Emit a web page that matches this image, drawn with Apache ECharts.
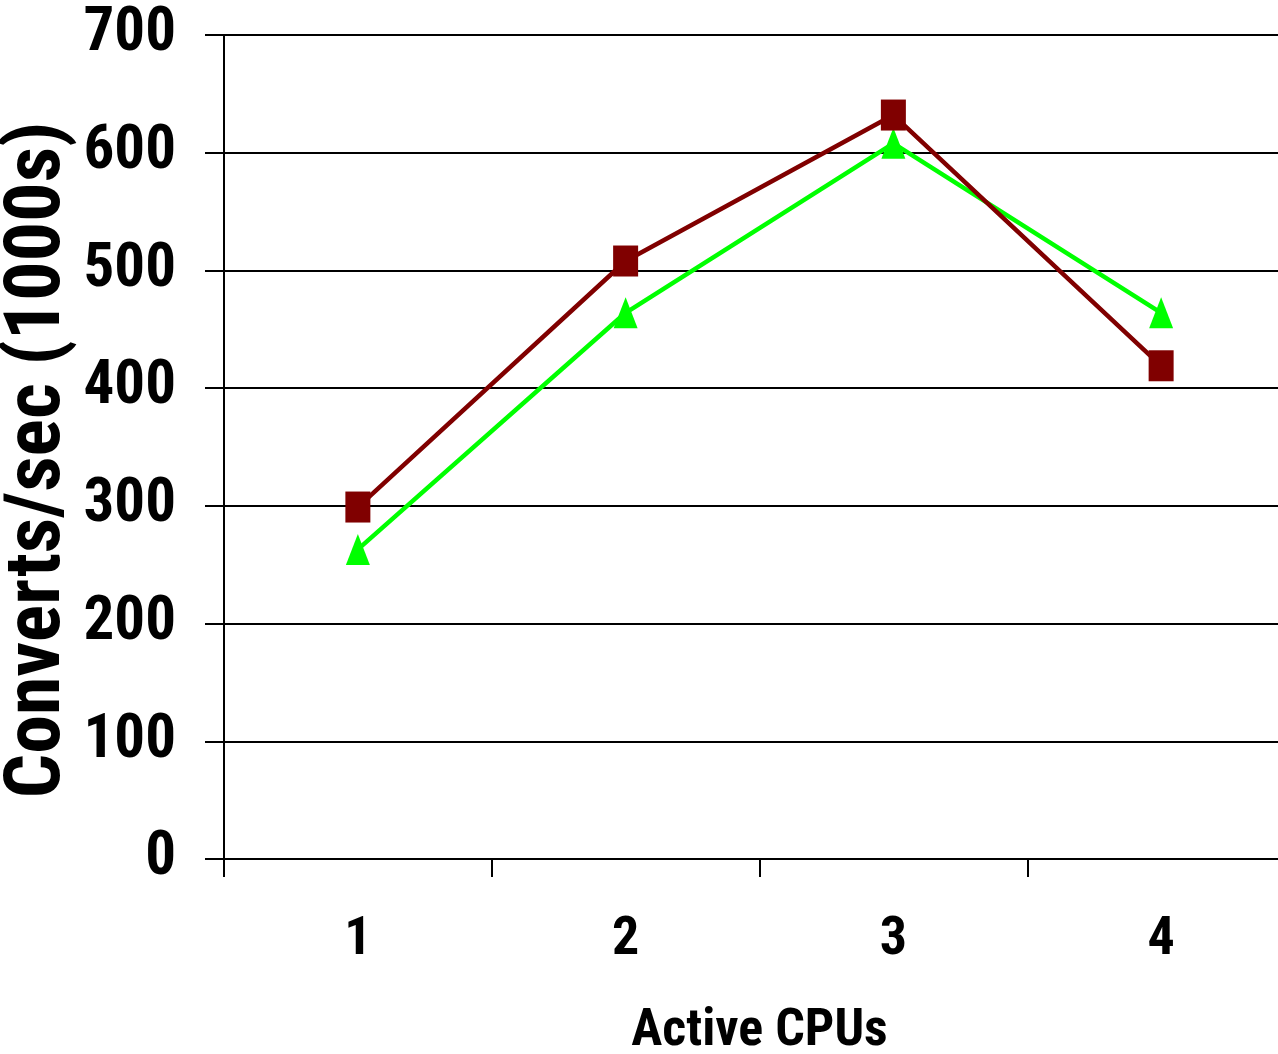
<!DOCTYPE html>
<html>
<head>
<meta charset="utf-8">
<script src="https://cdn.jsdelivr.net/npm/echarts@6/dist/echarts.min.js"></script>
<style>
  html, body { margin: 0; padding: 0; background: #ffffff; }
  #chart { width: 1278px; height: 1054px; }
</style>
</head>
<body>
<div id="chart"></div>
<script>
// Throughput per number of active CPUs (thousands of converts per second)
const cpus = ['1', '2', '3', '4'];
const seriesSquare = [299, 508, 632, 419];
const seriesTriangle = [263, 464, 608, 464];
const yTicks = { min: 0, max: 700, step: 100 };

const narrow = "'Roboto Condensed', 'Liberation Sans Narrow', 'Arial Narrow', sans-serif";

const chart = echarts.init(document.getElementById('chart'));
chart.setOption({
  backgroundColor: '#ffffff',
  animation: false,
  grid: { left: 224, top: 35, width: 1071, height: 824, containLabel: false, outerBoundsMode: 'none' },
  xAxis: {
    type: 'category',
    data: cpus,
    boundaryGap: true,
    name: 'Active CPUs',
    nameLocation: 'middle',
    nameGap: 147,
    nameMoveOverlap: false,
    nameTextStyle: { fontFamily: narrow, fontWeight: 'bold', fontSize: 52, color: '#000', verticalAlign: 'top' },
    axisLine: { lineStyle: { color: '#000', width: 2 } },
    axisTick: { show: true, length: 18, lineStyle: { color: '#000', width: 2 } },
    axisLabel: { margin: 54, fontFamily: narrow, fontWeight: 'bold', fontSize: 54, color: '#000' },
    splitLine: { show: false }
  },
  yAxis: {
    type: 'value',
    min: yTicks.min,
    max: yTicks.max,
    interval: yTicks.step,
    name: 'Converts/sec (1000s)',
    nameLocation: 'middle',
    nameRotate: 90,
    nameGap: 146,
    nameMoveOverlap: false,
    nameTextStyle: { fontFamily: narrow, fontWeight: 'bold', fontSize: 78, color: '#000', padding: [0, 26, 0, 0] },
    axisLine: { show: true, lineStyle: { color: '#000', width: 2 } },
    axisTick: { show: true, length: 19, lineStyle: { color: '#000', width: 2 } },
    axisLabel: { margin: 48, fontFamily: narrow, fontWeight: 'bold', fontSize: 61, color: '#000' },
    splitLine: { show: true, lineStyle: { color: '#000', width: 2 } }
  },
  series: [
    {
      type: 'line',
      data: seriesTriangle,
      symbol: 'triangle',
      symbolSize: [24, 31],
      lineStyle: { color: '#00ff00', width: 4.5 },
      itemStyle: { color: '#00ff00' }
    },
    {
      type: 'line',
      data: seriesSquare,
      symbol: 'rect',
      symbolSize: [25, 31],
      lineStyle: { color: '#800000', width: 4.5 },
      itemStyle: { color: '#800000' }
    }
  ]
});
</script>
</body>
</html>
